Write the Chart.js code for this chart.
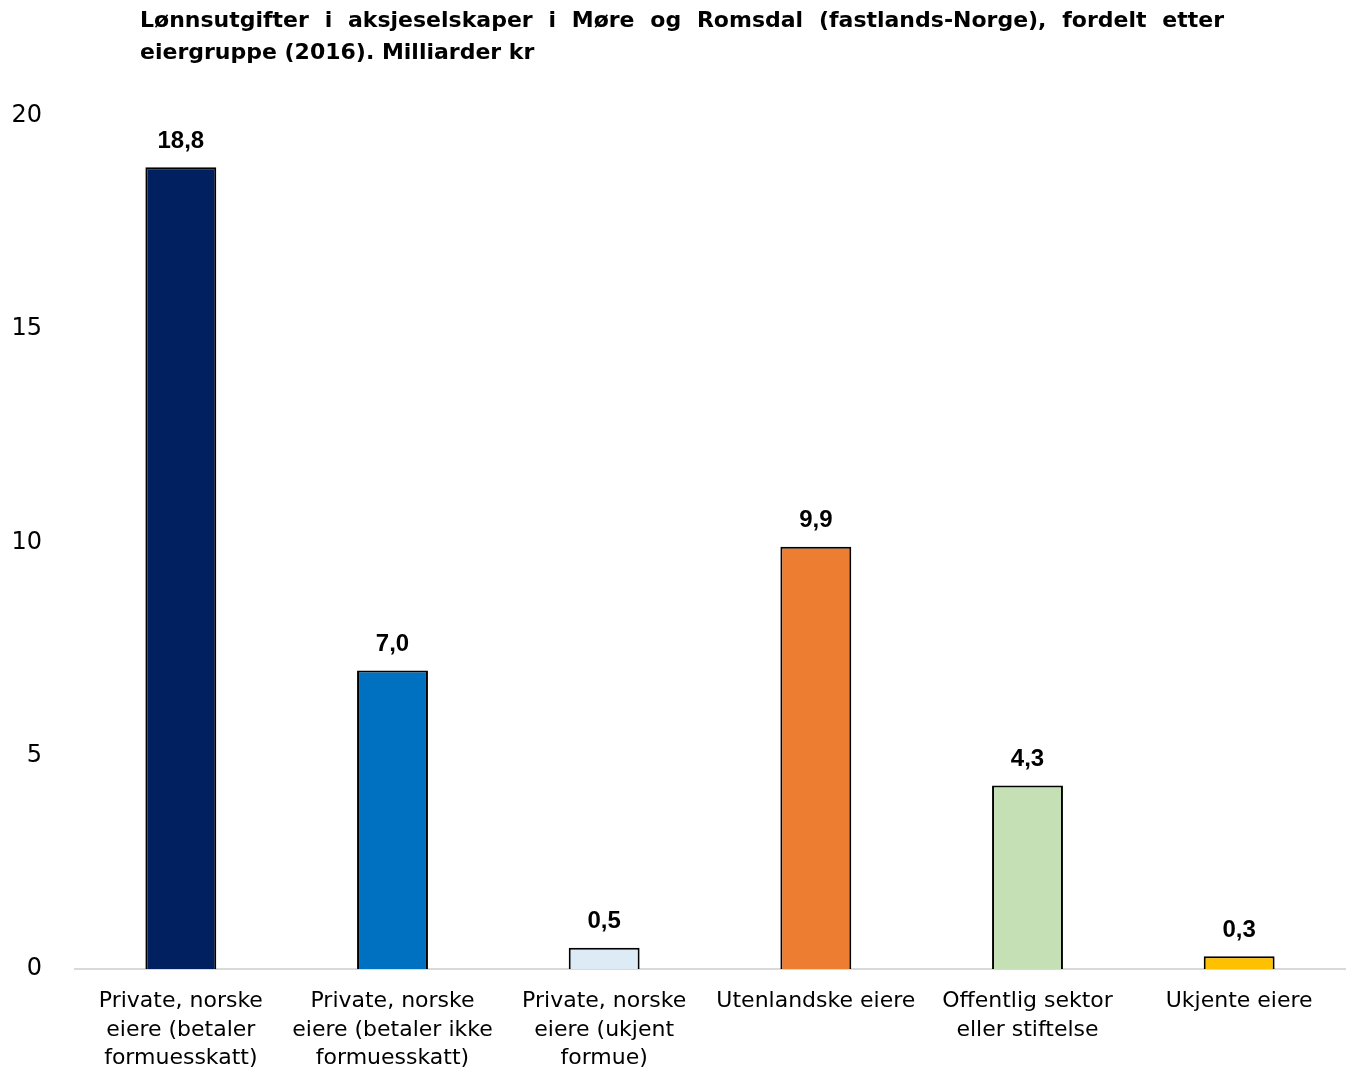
<!DOCTYPE html>
<html>
<head>
<meta charset="utf-8">
<script src="https://cdn.jsdelivr.net/npm/chart.js@4"></script>
<style>
  html, body { margin: 0; padding: 0; background: #fff; }
  #wrap { width: 1350px; height: 1071px; position: relative; }
</style>
</head>
<body>
<div id="wrap"><canvas id="myChart"></canvas></div>
<script>
const titleLines = [
  'Lønnsutgifter i aksjeselskaper i Møre og Romsdal (fastlands-Norge), fordelt etter',
  'eiergruppe (2016). Milliarder kr'
];
const categories = [
  ['Private, norske', 'eiere (betaler', 'formuesskatt)'],
  ['Private, norske', 'eiere (betaler ikke', 'formuesskatt)'],
  ['Private, norske', 'eiere (ukjent', 'formue)'],
  ['Utenlandske eiere'],
  ['Offentlig sektor', 'eller stiftelse'],
  ['Ukjente eiere']
];
const values = [18.8, 7.0, 0.5, 9.9, 4.3, 0.3];
const barColors = ['#002060', '#0070C0', '#DDEBF7', '#ED7D31', '#C5E0B4', '#FFC000'];
const yTicks = [0, 5, 10, 15, 20];

// justified title drawn on the canvas
const titlePlugin = {
  id: 'justTitle',
  afterDraw(chart) {
    const ctx = chart.ctx;
    ctx.save();
    ctx.font = 'bold 22px "DejaVu Sans"';
    ctx.fillStyle = '#000';
    ctx.textBaseline = 'middle';
    const left = 140, right = 1224;
    titleLines.forEach((line, i) => {
      const y = 21 + i * 32;
      if (i === titleLines.length - 1) {
        ctx.textAlign = 'left';
        ctx.fillText(line, left, y);
        return;
      }
      const words = line.split(' ');
      const wordsW = words.reduce((s, w) => s + ctx.measureText(w).width, 0);
      const gap = (right - left - wordsW) / (words.length - 1);
      let x = left;
      ctx.textAlign = 'left';
      words.forEach(w => {
        ctx.fillText(w, x, y);
        x += ctx.measureText(w).width + gap;
      });
    });
    ctx.restore();
  }
};

// value labels above the bars
const valueLabels = {
  id: 'valueLabels',
  afterDatasetsDraw(chart) {
    const ctx = chart.ctx;
    const meta = chart.getDatasetMeta(0);
    ctx.save();
    ctx.font = 'bold 24px Arial, "Liberation Sans"';
    ctx.fillStyle = '#000';
    ctx.textAlign = 'center';
    ctx.textBaseline = 'middle';
    meta.data.forEach((bar, i) => {
      ctx.fillText(values[i].toFixed(1).replace('.', ','), bar.x, bar.y - 26);
    });
    ctx.restore();
  }
};

new Chart('myChart', {
  type: 'bar',
  data: {
    labels: categories,
    datasets: [{
      data: values,
      backgroundColor: barColors,
      borderColor: '#000',
      borderWidth: 2,
      borderSkipped: 'bottom',
      barPercentage: 0.335,
      categoryPercentage: 1
    }]
  },
  options: {
    responsive: true,
    maintainAspectRatio: false,
    animation: false,
    layout: { padding: { top: 116, right: 5, bottom: 0, left: 0 } },
    plugins: {
      legend: { display: false },
      tooltip: { enabled: false },
      title: { display: false }
    },
    scales: {
      x: {
        grid: { display: false },
        border: { display: true, color: '#d9d9d9', width: 2 },
        ticks: {
          color: '#000',
          font: { family: 'DejaVu Sans', size: 22, lineHeight: 1.3 },
          padding: 10,
          maxRotation: 0,
          autoSkip: false
        },
        afterFit(scale) { scale.height = 102; }
      },
      y: {
        min: 0,
        max: 20,
        grid: { display: false },
        border: { display: false },
        afterBuildTicks(scale) { scale.ticks = yTicks.map(v => ({ value: v })); },
        ticks: {
          color: '#000',
          font: { family: 'DejaVu Sans', size: 24 },
          padding: 25
        },
        afterFit(scale) { scale.width = 75; }
      }
    }
  },
  plugins: [titlePlugin, valueLabels]
});
</script>
</body>
</html>
